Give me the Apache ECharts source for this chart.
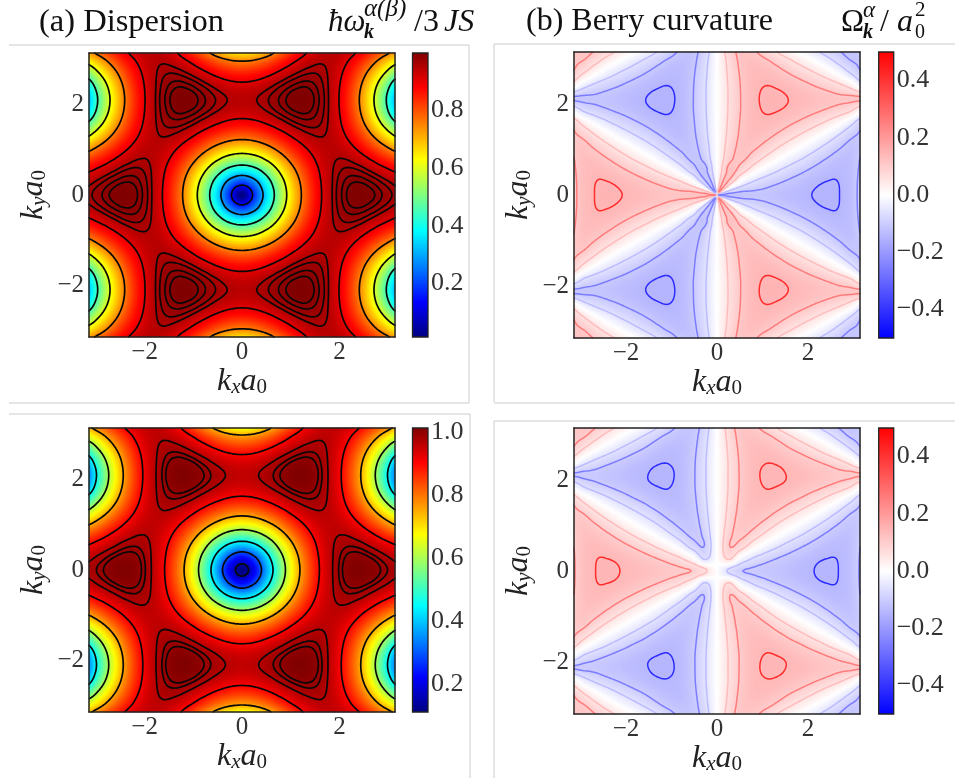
<!DOCTYPE html>
<html><head><meta charset="utf-8">
<style>html,body{margin:0;padding:0;background:#fff}#c{width:955px;height:783px}</style>
<script src="https://cdn.jsdelivr.net/npm/echarts@6/dist/echarts.min.js"></script>
</head><body><div id="c"></div>
<script>
// The picture has mirror symmetry, so one quadrant was read: rows ky = 0..3.2, columns kx = 0..3.2, step kStep.
const kStep = 3.2 / 12;
const omegaTop = [
[.015,.188,.367,.533,.678,.798,.890,.953,.989,.998,.993,.976,.958],
[.187,.264,.408,.558,.693,.807,.894,.952,.984,.991,.981,.961,.940],
[.367,.408,.505,.623,.735,.831,.904,.950,.970,.967,.946,.918,.890],
[.533,.558,.623,.709,.794,.867,.919,.946,.949,.928,.892,.848,.808],
[.676,.693,.738,.797,.858,.906,.936,.942,.923,.882,.824,.759,.700],
[.793,.805,.836,.876,.916,.944,.953,.938,.897,.833,.750,.659,.574],
[.879,.887,.909,.937,.962,.974,.967,.934,.875,.790,.683,.562,.444],
[.929,.935,.953,.974,.990,.993,.975,.932,.861,.762,.637,.491,.334],
[.942,.948,.964,.983,.998,.998,.978,.931,.857,.754,.624,.470,.298],
[.918,.925,.943,.966,.984,.989,.973,.932,.864,.768,.647,.508,.361],
[.857,.866,.890,.922,.950,.966,.963,.935,.881,.801,.701,.589,.481],
[.762,.775,.809,.855,.900,.933,.948,.939,.905,.847,.772,.688,.612],
[.637,.656,.706,.772,.839,.895,.931,.943,.931,.896,.845,.787,.734]];
const omegaBottom = [
[.112,.220,.386,.548,.692,.811,.903,.966,1.002,1.013,1.006,.989,.971],
[.219,.288,.426,.573,.707,.820,.907,.965,.997,1.004,.994,.974,.953],
[.386,.426,.521,.637,.749,.844,.917,.963,.983,.980,.959,.931,.903],
[.548,.573,.637,.723,.807,.880,.932,.959,.962,.941,.905,.861,.821],
[.690,.707,.752,.810,.871,.919,.949,.955,.936,.895,.837,.772,.714],
[.806,.818,.849,.889,.929,.957,.966,.951,.910,.846,.763,.673,.589],
[.892,.900,.922,.950,.975,.987,.980,.947,.888,.803,.696,.577,.461],
[.942,.948,.966,.987,1.003,1.006,.988,.945,.874,.775,.651,.507,.354],
[.955,.961,.977,.996,1.011,1.011,.991,.944,.870,.767,.638,.486,.322],
[.931,.938,.956,.979,.997,1.002,.986,.945,.877,.781,.661,.524,.380],
[.870,.879,.903,.935,.963,.979,.976,.948,.894,.814,.715,.603,.497],
[.775,.788,.822,.868,.913,.946,.961,.952,.918,.860,.785,.702,.627],
[.651,.670,.720,.785,.852,.908,.944,.956,.944,.909,.858,.800,.748]];
const berryTop = [
[0,-.115,-.118,-.114,-.115,-.122,-.129,-.137,-.143,-.147,-.143,-.126,-.090],
[0,.074,-.020,-.064,-.087,-.102,-.115,-.127,-.137,-.143,-.142,-.126,-.091],
[0,.118,.078,.022,-.022,-.053,-.078,-.098,-.116,-.130,-.136,-.126,-.095],
[0,.091,.113,.083,.044,.007,-.026,-.054,-.081,-.105,-.122,-.125,-.100],
[0,.078,.116,.114,.091,.060,.029,-.002,-.034,-.066,-.096,-.117,-.108],
[0,.069,.113,.128,.120,.101,.077,.051,.022,-.012,-.051,-.091,-.112],
[0,.064,.110,.133,.136,.128,.113,.096,.075,.050,.016,-.032,-.092],
[0,.061,.107,.134,.144,.143,.136,.125,.114,.102,.087,.064,.009],
[0,.060,.107,.135,.146,.146,.141,.134,.125,.119,.112,.112,.112],
[0,.061,.108,.134,.142,.139,.131,.119,.105,.090,.069,.036,-.031],
[0,.065,.111,.132,.133,.122,.104,.084,.061,.032,-.005,-.053,-.103],
[0,.071,.115,.125,.113,.091,.064,.036,.005,-.029,-.067,-.102,-.112],
[0,.082,.116,.108,.079,.046,.014,-.018,-.049,-.079,-.105,-.120,-.105]];
const berryBottom = [
[0,-.065,-.095,-.103,-.110,-.118,-.125,-.134,-.139,-.143,-.139,-.123,-.088],
[0,.058,-.018,-.060,-.083,-.099,-.112,-.124,-.134,-.139,-.138,-.123,-.089],
[0,.095,.072,.021,-.021,-.051,-.076,-.096,-.113,-.127,-.133,-.123,-.092],
[0,.086,.105,.080,.043,.007,-.025,-.053,-.079,-.102,-.119,-.121,-.097],
[0,.075,.112,.110,.088,.058,.028,-.002,-.033,-.064,-.093,-.113,-.103],
[0,.067,.110,.124,.117,.098,.075,.050,.021,-.012,-.049,-.087,-.106],
[0,.062,.107,.130,.133,.125,.110,.094,.073,.048,.015,-.030,-.084],
[0,.059,.104,.131,.140,.139,.133,.122,.111,.098,.083,.059,.008],
[0,.059,.104,.132,.142,.142,.137,.131,.121,.115,.106,.104,.100],
[0,.059,.105,.131,.138,.136,.128,.116,.102,.087,.066,.033,-.027],
[0,.063,.108,.129,.130,.119,.101,.082,.059,.031,-.005,-.050,-.095],
[0,.069,.111,.121,.110,.089,.062,.035,.005,-.028,-.065,-.098,-.106],
[0,.078,.111,.104,.077,.045,.014,-.018,-.048,-.077,-.102,-.116,-.101]];

const axisTicks = [-2, 0, 2];
const levelsOmegaTop = [.15,.30,.45,.60,.75,.90,.95,.965,.98,.99];
const levelsOmegaBottom = [.15,.30,.45,.60,.75,.90,.965,.985,.995];
const levelsBerryTop = [.055,.105,.142];
const levelsBerryBottom = [.054,.097,.139];
const barTicksOmegaTop = [.2,.4,.6,.8];
const barTicksOmegaBottom = [.2,.4,.6,.8,1.0];
const barTicksBerry = [-.4,-.2,0,.2,.4];
const jet = ['#000080','#0000ff','#0080ff','#00ffff','#80ff80','#ffff00','#ff8000','#ff0000','#800000'];
const bwr = ['#0000ff','#ffffff','#ff0000'];
const berryLineBlue = ['#bcbcff','#7c7cff','#2c2cff'];
const berryLineRed = ['#ffbcbc','#ff7c7c','#ff2c2c'];

const serif = '"Liberation Serif","Times New Roman",serif';
const PI = Math.PI;
const panels = [
 {q:omegaTop, odd:false, cmap:jet, min:.015, max:.998, bt:barTicksOmegaTop, lv:levelsOmegaTop, g:[89,53,306,284], b:[412.5,53,15.5,284]},
 {q:berryTop, odd:true, fan:.55, cmap:bwr, min:-.5, max:.5, bt:barTicksBerry, lv:levelsBerryTop, g:[574,52,286,286], b:[878.7,52,15,286]},
 {q:omegaBottom, odd:false, cmap:jet, min:.112, max:1.013, bt:barTicksOmegaBottom, lv:levelsOmegaBottom, g:[89,428,306,284], b:[412.5,428,15.5,284]},
 {q:berryBottom, odd:true, cmap:bwr, min:-.5, max:.5, bt:barTicksBerry, lv:levelsBerryBottom, g:[574,428,286,286], b:[878.7,428,15,286]}
];

function node(p, ix, iy){
  const ax=Math.min(Math.abs(ix),12), ay=Math.min(Math.abs(iy),12);
  const v=p.q[ay][ax];
  return (p.odd && ix<0) ? -v : v;
}
function cr(a,b,c,d,t){return .5*(2*b+(c-a)*t+(2*a-5*b+4*c-d)*t*t+(3*b-a-3*c+d)*t*t*t);}
function field(p,x,y){
  if(p.fan){const r=Math.hypot(x,y); if(r<p.fan){ if(r<1e-9)return 0; x*=p.fan/r; y*=p.fan/r; }}
  const u=x/kStep, v=y/kStep, iu=Math.floor(u), iv=Math.floor(v), tu=u-iu, tv=v-iv, col=[];
  for(let j=-1;j<=2;j++){
    col.push(cr(node(p,iu-1,iv+j),node(p,iu,iv+j),node(p,iu+1,iv+j),node(p,iu+2,iv+j),tu));
  }
  return cr(col[0],col[1],col[2],col[3],tv);
}
const CN=170;
function heatData(p,nx,ny){
  const out=[];
  for(let a=0;a<nx;a++)for(let b=0;b<ny;b++){
    out.push([a,b,field(p,-PI+(a+.5)*2*PI/nx,-PI+(b+.5)*2*PI/ny)]);
  }
  return out;
}
function contourGrid(p){
  const g=[];
  for(let b=0;b<=CN;b++){const r=[];for(let a=0;a<=CN;a++)r.push(field(p,-PI+a*2*PI/CN,-PI+b*2*PI/CN));g.push(r);}
  return g;
}
function contour(g,L){
  const d=2*PI/CN, out=[];
  const X=a=>-PI+a*d;
  for(let b=0;b<CN;b++)for(let a=0;a<CN;a++){
    const v0=g[b][a],v1=g[b][a+1],v2=g[b+1][a+1],v3=g[b+1][a], pts=[];
    if((v0<L)!==(v1<L))pts.push([X(a+(L-v0)/(v1-v0)),X(b)]);
    if((v1<L)!==(v2<L))pts.push([X(a+1),X(b+(L-v1)/(v2-v1))]);
    if((v3<L)!==(v2<L))pts.push([X(a+(L-v3)/(v2-v3)),X(b+1)]);
    if((v0<L)!==(v3<L))pts.push([X(a),X(b+(L-v0)/(v3-v0))]);
    for(let k=0;k+1<pts.length;k+=2){out.push(pts[k],pts[k+1],['-','-']);}
  }
  return out;
}
const mathI={fontFamily:serif,fontStyle:'italic',fontSize:32,color:'#222'};
const subI={fontFamily:serif,fontStyle:'italic',fontSize:21,color:'#222',padding:[12,0,0,0]};
const subN={fontFamily:serif,fontSize:21,color:'#222',padding:[12,0,0,0]};
const nameRich={i:mathI,s:subI,n:subN};
const fmt=v=>{return String(v).replace('-','\u2212');};
const fmtBar=v=>Number(v).toFixed(1).replace('-','\u2212');
const frame={show:true,onZero:false,lineStyle:{color:'#222',width:1.5}};

const grid=[],xAxis=[],yAxis=[],series=[],visualMap=[];
panels.forEach((p,n)=>{
  const gi=grid.length;
  const nx=p.g[2]/2, ny=p.g[3]/2;
  const catsX=Array.from({length:nx},(_,i)=>String(i)), catsY=Array.from({length:ny},(_,i)=>String(i));
  grid.push({left:p.g[0],top:p.g[1],width:p.g[2],height:p.g[3]});
  grid.push({left:p.b[0],top:p.b[1],width:p.b[2],height:p.b[3]});
  const xv=xAxis.length, yv=yAxis.length;
  xAxis.push({type:'value',gridIndex:gi,min:-PI,max:PI,z:10,position:'bottom',
    name:'{i|k}{s|x}{i|a}{n|0}',nameLocation:'middle',nameGap:27,nameTextStyle:{rich:nameRich},
    axisLine:frame,axisTick:{show:false},splitLine:{show:false},
    axisLabel:{customValues:axisTicks,formatter:fmt,fontFamily:serif,fontSize:25,color:'#333',margin:3}});
  yAxis.push({type:'value',gridIndex:gi,min:-PI,max:PI,z:10,position:'left',
    name:'{i|k}{s|y}{i|a}{n|0}',nameLocation:'middle',nameGap:39,nameTextStyle:{rich:nameRich},
    axisLine:frame,axisTick:{show:false},splitLine:{show:false},
    axisLabel:{customValues:axisTicks,formatter:fmt,fontFamily:serif,fontSize:25,color:'#333',margin:5}});
  xAxis.push({type:'category',gridIndex:gi,data:catsX,position:'top',z:10,boundaryGap:true,
    axisLine:frame,axisTick:{show:false},axisLabel:{show:false},splitLine:{show:false}});
  yAxis.push({type:'category',gridIndex:gi,data:catsY,position:'right',z:10,boundaryGap:true,
    axisLine:frame,axisTick:{show:false},axisLabel:{show:false},splitLine:{show:false}});
  xAxis.push({type:'category',gridIndex:gi+1,data:['bar'],show:false});
  yAxis.push({type:'value',gridIndex:gi+1,min:p.min,max:p.max,position:'right',z:10,
    axisLine:{show:false},axisTick:{show:false},splitLine:{show:false},
    axisLabel:{customValues:p.bt,formatter:fmtBar,fontFamily:serif,fontSize:26,color:'#333',margin:3}});

  const hi=series.length;
  visualMap.push({show:false,seriesIndex:hi,dimension:2,min:p.min,max:p.max,inRange:{color:p.cmap}});
  series.push({type:'heatmap',xAxisIndex:xv+1,yAxisIndex:yv+1,data:heatData(p,nx,ny),progressive:0,silent:true,z:1,
    itemStyle:{borderWidth:0},emphasis:{disabled:true}});
  const cg=contourGrid(p);
  if(p.odd){
    p.lv.forEach((L,li)=>{
      [[L,berryLineRed[li]],[-L,berryLineBlue[li]]].forEach(([lv,col])=>{
        series.push({type:'line',xAxisIndex:xv,yAxisIndex:yv,data:contour(cg,lv),symbol:'none',silent:true,z:3,
          clip:true,connectNulls:false,lineStyle:{color:col,width:1.5,cap:'round'}});
      });
    });
  } else {
    p.lv.forEach(L=>{
      series.push({type:'line',xAxisIndex:xv,yAxisIndex:yv,data:contour(cg,L),symbol:'none',silent:true,z:3,
        clip:true,connectNulls:false,lineStyle:{color:'#080808',width:1.7,cap:'round'}});
    });
  }
  const stops=p.cmap.map((c,i)=>({offset:i/(p.cmap.length-1),color:c}));
  series.push({type:'custom',xAxisIndex:xv+2,yAxisIndex:yv+2,data:[[0,p.min,p.max]],silent:true,z:2,clip:false,
    renderItem:(params,api)=>{
      const y0=api.coord([0,api.value(1)])[1], y1=api.coord([0,api.value(2)])[1], cs=params.coordSys;
      return {type:'rect',shape:{x:cs.x,y:y1,width:cs.width,height:y0-y1},
        style:{fill:new echarts.graphic.LinearGradient(0,1,0,0,stops),stroke:'#222',lineWidth:1.3}};
    }});
});

const T=(x,y,text,size,extra)=>({type:'text',left:x,top:y,silent:true,
  style:Object.assign({text:text,fontFamily:serif,fontSize:size,fill:'#111'},extra||{})});
const It={fontStyle:'italic'};
const L=(x1,y1,x2,y2)=>({type:'line',silent:true,shape:{x1,y1,x2,y2},style:{stroke:'#cccccc',lineWidth:1}});
const graphic=[
  L(9,45,469,45),L(469,45,469,403),L(9,403,469,403),
  L(9,414,470,414),L(470,414,470,778),
  L(494,44,955,44),L(494,44,494,402),L(494,403,955,403),
  L(494,421,955,421),L(494,421,494,778),
  T(39,6,'(a) Dispersion',32.5),
  T(526,6,'(b) Berry curvature',32),
  T(328,7,'\u0127\u03C9',31,It),
  T(364,-3,'\u03B1(\u03B2)',25,It),
  T(364,23,'k',20,{fontStyle:'italic',fontWeight:'bold'}),
  T(414,7,'/3',32),T(444,7,'JS',32,It),
  T(841,7,'\u03A9',31),
  T(863,-1,'\u03B1',23,It),
  T(863,23,'k',20,{fontStyle:'italic',fontWeight:'bold'}),
  T(880,7,'/',32),T(897,7,'a',32,It),
  T(915,23,'0',20),T(915,0,'2',21)
];
const chart=echarts.init(document.getElementById('c'),null,{renderer:'canvas'});
chart.setOption({animation:false,backgroundColor:'#fff',grid,xAxis,yAxis,visualMap,series,graphic});
</script></body></html>
